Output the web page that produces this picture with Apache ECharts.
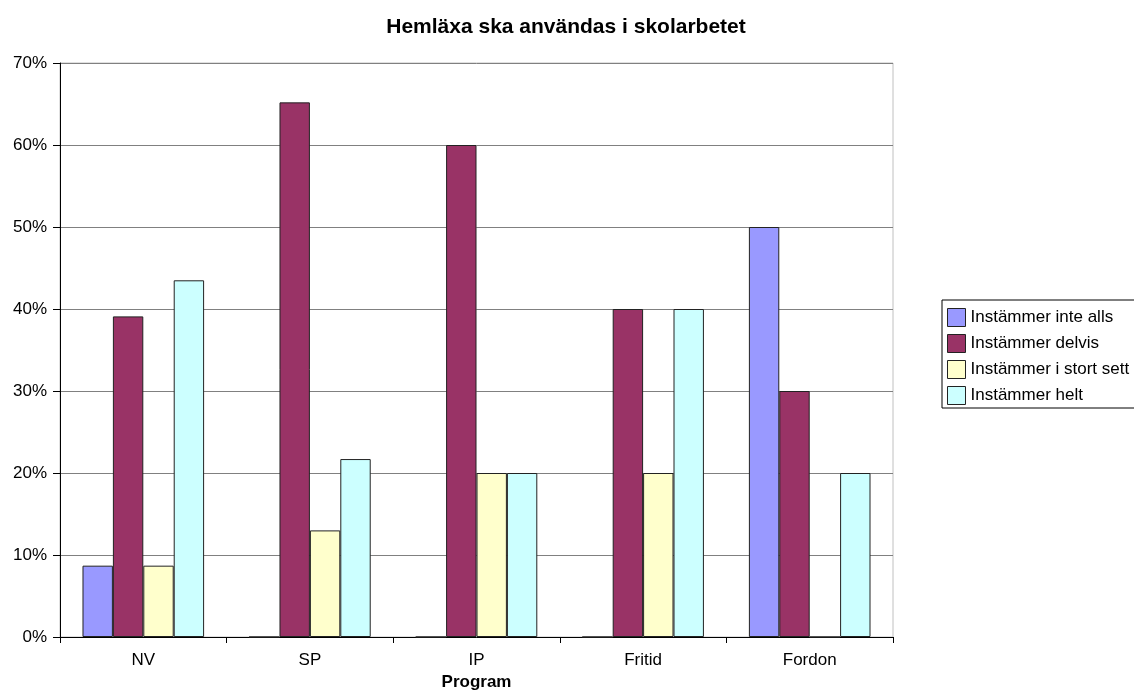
<!DOCTYPE html>
<html>
<head>
<meta charset="utf-8">
<script src="https://cdn.jsdelivr.net/npm/echarts@6/dist/echarts.min.js"></script>
<style>
  html, body { margin: 0; padding: 0; background: #fff; }
  #chart { width: 1134px; height: 698px; }
</style>
</head>
<body>
<div id="chart"></div>
<script>
// Survey answers per study programme, share of respondents (%)
const programs = ['NV', 'SP', 'IP', 'Fritid', 'Fordon'];
const seriesNames = ['Instämmer inte alls', 'Instämmer delvis', 'Instämmer i stort sett', 'Instämmer helt'];
const inteAlls   = [8.7, 0, 0, 0, 50];
const delvis     = [39.1, 65.2, 60, 40, 30];
const stortSett  = [8.7, 13.0, 20, 20, 0];
const helt       = [43.5, 21.7, 20, 40, 20];
const colors = ['#9999FF', '#993366', '#FFFFCC', '#CCFFFF'];

const font = 'Arial, "Liberation Sans", sans-serif';
const values = [inteAlls, delvis, stortSett, helt];

const chart = echarts.init(document.getElementById('chart'));
chart.setOption({
  animation: false,
  textStyle: { fontFamily: font },
  title: {
    text: 'Hemläxa ska användas i skolarbetet',
    left: 561, top: 12, textAlign: 'center',
    textStyle: { fontSize: 21, fontWeight: 'bold', color: '#000', fontFamily: font }
  },
  legend: {
    orient: 'vertical',
    left: 942, top: 300,
    padding: [8, 8, 3, 5],
    itemGap: 7,
    itemWidth: 18, itemHeight: 18,
    borderColor: '#000', borderWidth: 1,
    icon: 'rect',
    itemStyle: { borderColor: '#222', borderWidth: 1 },
    textStyle: { fontSize: 17, color: '#000', fontFamily: font },
    data: seriesNames
  },
  grid: {
    left: 60, right: 241, top: 63, bottom: 61,
    outerBoundsMode: 'none',
    containLabel: false,
    show: true, borderColor: '#c0c0c0', borderWidth: 1
  },
  xAxis: {
    type: 'category',
    data: programs,
    name: 'Program',
    nameLocation: 'middle',
    nameGap: 33,
    nameTextStyle: { fontSize: 17, fontWeight: 'bold', color: '#000', fontFamily: font },
    axisLine: { lineStyle: { color: '#000', width: 1 } },
    axisTick: { show: true, length: 6, lineStyle: { color: '#000' } },
    axisLabel: { fontSize: 17, color: '#000', margin: 15, fontFamily: font }
  },
  yAxis: {
    type: 'value',
    min: 0, max: 70, interval: 10,
    axisLine: { show: true, lineStyle: { color: '#000', width: 1 } },
    axisTick: { show: true, length: 7, lineStyle: { color: '#000' } },
    axisLabel: { formatter: '{value}%', fontSize: 17, color: '#000', margin: 13, fontFamily: font },
    splitLine: { lineStyle: { color: '#808080', width: 1 } }
  },
  series: seriesNames.map((name, i) => ({
    name: name,
    type: 'bar',
    data: values[i],
    barGap: '0%',
    barCategoryGap: '27%',
    itemStyle: { color: colors[i], borderColor: '#222', borderWidth: 1 }
  }))
});
</script>
</body>
</html>
